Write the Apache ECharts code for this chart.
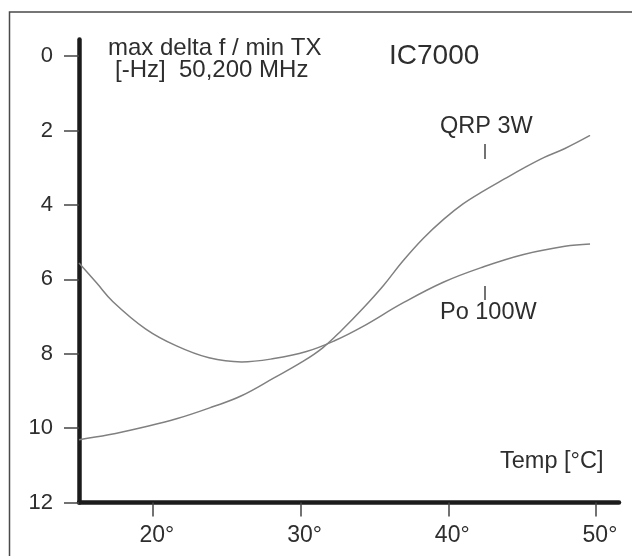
<!DOCTYPE html>
<html>
<head>
<meta charset="utf-8">
<script src="https://cdn.jsdelivr.net/npm/echarts@6/dist/echarts.min.js"></script>
<style>
  html, body { margin: 0; padding: 0; background: #fff; }
  #chart { width: 632px; height: 556px; }
</style>
</head>
<body>
<div id="chart"></div>
<script>
// temperatures (°C)
var qrpTemp = [15, 17, 19.2, 21.6, 24.1, 26, 28.2, 30.1, 31.5, 32.8, 34.2, 35.6, 36.9, 38.3, 39.7, 41, 42.4, 43.8, 45.1, 46.5, 47.9, 49.6]
// max delta f [-Hz] at QRP 3W
var qrpDelta = [10.31, 10.18, 9.99, 9.75, 9.42, 9.13, 8.65, 8.22, 7.84, 7.36, 6.79, 6.17, 5.52, 4.9, 4.38, 3.97, 3.62, 3.3, 3.01, 2.72, 2.48, 2.13]

var poTemp = [15, 16.2, 17.3, 19.5, 21.6, 23.8, 26, 28.2, 30.4, 32.3, 34.2, 36.9, 39.7, 42.4, 45.1, 47.9, 49.6]
// max delta f [-Hz] at Po 100W
var poDelta = [5.56, 6.1, 6.6, 7.33, 7.79, 8.11, 8.22, 8.13, 7.94, 7.65, 7.27, 6.64, 6.07, 5.66, 5.33, 5.11, 5.05]

// axis ticks
var xTicks = [20, 30, 40, 50]
var yTicks = [0, 2, 4, 6, 8, 10, 12]

function pairs(xs, ys) {
  return xs.map(function (x, i) { return [x, ys[i]] })
}

var font = '"Liberation Sans", Arial, sans-serif'
var txtColor = '#2e2e2e'

var chart = echarts.init(document.getElementById('chart'))

var option = {
  backgroundColor: '#fff',
  animation: false,
  grid: {
    left: 79,
    top: 39.5,
    width: 540,
    height: 463
  },
  xAxis: {
    type: 'value',
    min: 15,
    max: 51.56,
    splitLine: { show: false },
    axisLine: { onZero: false, lineStyle: { color: '#1c1c1c', width: 4.5 } },
    axisTick: { customValues: xTicks, length: 14, lineStyle: { color: '#444', width: 1.5 } },
    axisLabel: {
      customValues: xTicks,
      formatter: '{value}°',
      margin: 22,
      padding: [0, 0, 0, 8],
      fontSize: 23,
      fontFamily: font,
      color: txtColor
    }
  },
  yAxis: {
    type: 'value',
    inverse: true,
    min: -0.45,
    max: 12,
    splitLine: { show: false },
    axisLine: { show: true, onZero: false, lineStyle: { color: '#1c1c1c', width: 4.5 } },
    axisTick: { show: true, customValues: yTicks, length: 15, lineStyle: { color: '#444', width: 1.5 } },
    axisLabel: {
      customValues: yTicks,
      margin: 26,
      fontSize: 22,
      fontFamily: font,
      color: txtColor
    }
  },
  series: [
    {
      name: 'QRP 3W',
      type: 'line',
      smooth: 0.4,
      symbol: 'none',
      data: pairs(qrpTemp, qrpDelta),
      lineStyle: { color: '#808080', width: 1.5 }
    },
    {
      name: 'Po 100W',
      type: 'line',
      smooth: 0.4,
      symbol: 'none',
      data: pairs(poTemp, poDelta),
      lineStyle: { color: '#808080', width: 1.5 }
    }
  ],
  graphic: [
    // frame
    {
      type: 'rect',
      shape: { x: 9.5, y: 12, width: 640, height: 560 },
      style: { fill: 'none', stroke: '#4a4a4a', lineWidth: 1.5 },
      silent: true
    },
    {
      type: 'text', left: 108, top: 36,
      style: { text: 'max delta f / min TX', font: '24px ' + font, fill: txtColor }
    },
    {
      type: 'text', left: 115, top: 58,
      style: { text: '[-Hz]  50,200 MHz', font: '24px ' + font, fill: txtColor }
    },
    {
      type: 'text', left: 389, top: 42,
      style: { text: 'IC7000', font: '28px ' + font, fill: txtColor }
    },
    {
      type: 'text', left: 440, top: 115,
      style: { text: 'QRP 3W', font: '23.5px ' + font, fill: txtColor }
    },
    {
      type: 'line',
      shape: { x1: 485, y1: 144, x2: 485, y2: 159 },
      style: { stroke: '#444', lineWidth: 1.5 }
    },
    {
      type: 'line',
      shape: { x1: 485, y1: 286, x2: 485, y2: 300 },
      style: { stroke: '#444', lineWidth: 1.5 }
    },
    {
      type: 'text', left: 440, top: 301,
      style: { text: 'Po 100W', font: '23.5px ' + font, fill: txtColor }
    },
    {
      type: 'text', left: 500, top: 450,
      style: { text: 'Temp [°C]', font: '23.5px ' + font, fill: txtColor }
    }
  ]
}

chart.setOption(option)
</script>
</body>
</html>
